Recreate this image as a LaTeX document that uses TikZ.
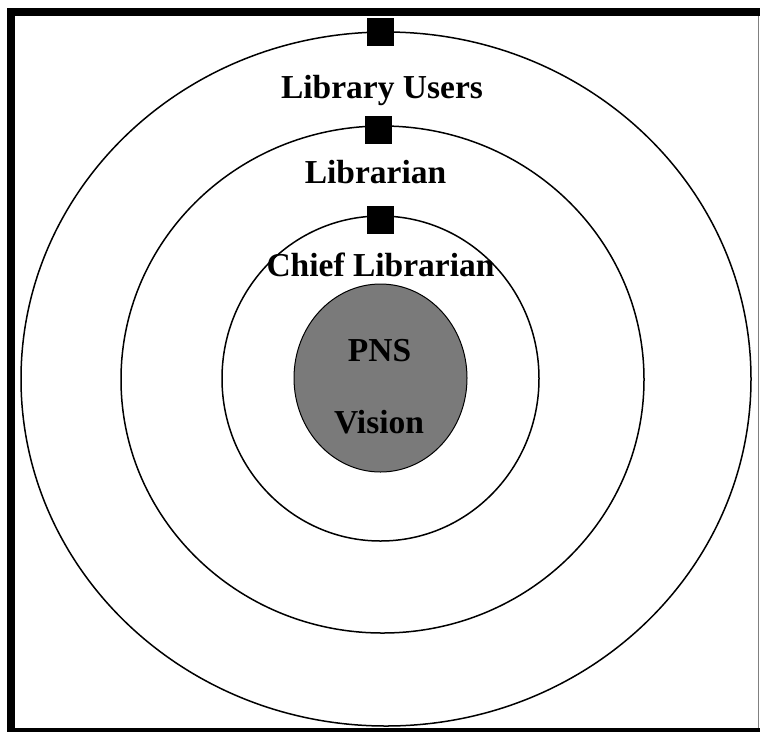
\documentclass[tikz,border=0pt]{standalone}
\usepackage{fontspec}
\setmainfont{Liberation Serif}

\tikzset{
  ring/.style={line width=1.5},
  core/.style={line width=1, fill=black!52},
  marker/.style={fill=black, minimum width=27, minimum height=28, inner sep=0},
  ringlabel/.style={font=\bfseries\fontsize{33.5}{40}\selectfont, anchor=base, inner sep=0},
}

\begin{document}
\begin{tikzpicture}[x=1pt, y=-1pt]
      \useasboundingbox (0,0) rectangle (760,732);
      % frame
      \fill[black] (7,8) rectangle (15,732);
      \fill[black] (7,8) rectangle (760,16);
      \fill[black] (7,728) rectangle (760,732);
      \draw[gray, line width=1] (758.5,16) -- (758.5,728);
      % rings, outside in
      \draw[ring] (386,379) ellipse [x radius=365, y radius=347];
      \draw[ring] (382.5,379.5) ellipse [x radius=261.5, y radius=253.5];
      \draw[ring] (380.5,378.5) ellipse [x radius=158.5, y radius=162.5];
      \draw[core] (380.5,378) ellipse [x radius=86.5, y radius=94];
      % markers on the rings
      \node[marker] (users mark) at (380.5,32) {};
      \node[marker] (librarian mark) at (378,129.5) {};
      \node[marker] (chief mark) at (380,219.5) {};
      % labels
      \node[ringlabel] (users) at (382,98) {Library Users};
      \node[ringlabel] (librarian) at (375.5,183) {Librarian};
      \node[ringlabel] (chief) at (380.5,276) {Chief Librarian};
      \node[ringlabel] (pns) at (379.5,361) {PNS};
      \node[ringlabel] (vision) at (379,433) {Vision};
\end{tikzpicture}
\end{document}
